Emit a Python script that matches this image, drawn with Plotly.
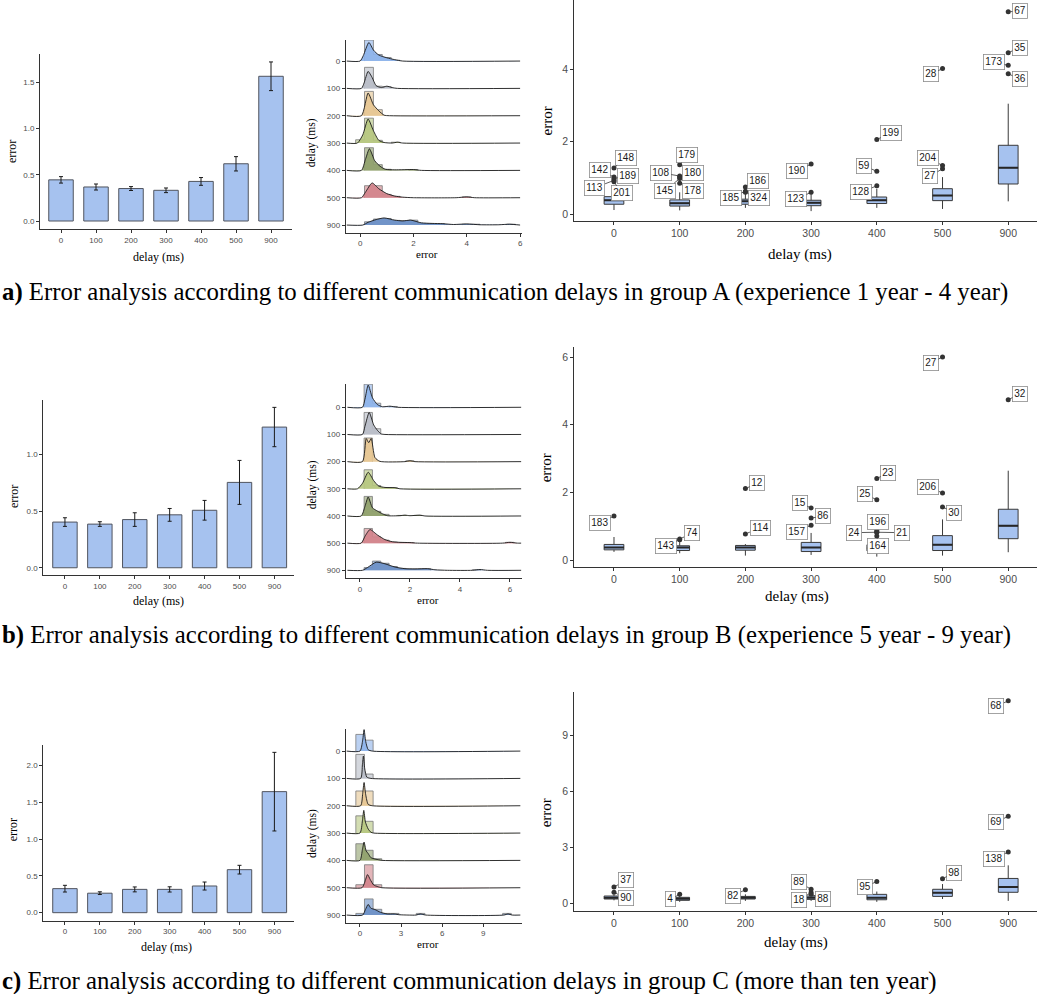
import plotly.graph_objects as go

W, H = 1037, 994

delays = ["0", "100", "200", "300", "400", "500", "900"]
pos = list(range(len(delays)))

# ---------------- mean error with standard-error bounds ----------------
bar_mean_a = [0.445, 0.368, 0.351, 0.332, 0.428, 0.619, 1.565]
bar_low_a = [0.410, 0.335, 0.330, 0.307, 0.386, 0.541, 1.410]
bar_high_a = [0.480, 0.400, 0.372, 0.357, 0.470, 0.696, 1.720]

bar_mean_b = [0.403, 0.385, 0.425, 0.467, 0.507, 0.753, 1.241]
bar_low_b = [0.365, 0.365, 0.365, 0.410, 0.420, 0.559, 1.068]
bar_high_b = [0.441, 0.406, 0.485, 0.523, 0.594, 0.947, 1.415]

bar_mean_c = [0.327, 0.265, 0.317, 0.317, 0.363, 0.585, 1.646]
bar_low_c = [0.281, 0.247, 0.283, 0.281, 0.308, 0.526, 1.111]
bar_high_c = [0.372, 0.284, 0.350, 0.352, 0.417, 0.644, 2.180]

# ---------------- ridgeline histograms: (bin index, height) ----------------
bin_start_ab, bin_width_ab = -0.167, 0.333
bin_start_c, bin_width_c = -0.30, 0.63

hist_a = [
    [(1, 0.77), (2, 0.24), (3, 0.13), (4, 0.03)],
    [(1, 0.77), (2, 0.08), (3, 0.06)],
    [(1, 0.89), (2, 0.22)],
    [(0, 0.12), (1, 0.91), (2, 0.10), (4, 0.03)],
    [(1, 0.83), (2, 0.21), (3, 0.04), (6, 0.03)],
    [(1, 0.44), (2, 0.44), (3, 0.12), (4, 0.05), (12, 0.03)],
    [(1, 0.12), (2, 0.22), (3, 0.24), (4, 0.17), (5, 0.16), (6, 0.18), (7, 0.06),
     (8, 0.05), (9, 0.05), (12, 0.03), (13, 0.03), (17, 0.03)],
]
hist_b = [
    [(1, 0.85), (2, 0.15), (4, 0.03)],
    [(1, 0.81), (2, 0.21)],
    [(1, 0.87), (6, 0.03)],
    [(1, 0.70), (2, 0.12), (3, 0.04), (4, 0.04)],
    [(1, 0.72), (2, 0.17), (3, 0.06), (5, 0.02), (7, 0.02)],
    [(1, 0.54), (2, 0.23), (3, 0.11), (4, 0.04), (5, 0.02), (6, 0.02), (18, 0.03)],
    [(1, 0.10), (2, 0.34), (3, 0.26), (4, 0.14), (5, 0.07), (6, 0.05), (7, 0.05),
     (8, 0.06), (14, 0.02)],
]
hist_c = [
    [(0, 0.61), (1, 0.40)],
    [(0, 0.88), (1, 0.16)],
    [(0, 0.54), (1, 0.54)],
    [(0, 0.63), (1, 0.43)],
    [(0, 0.61), (1, 0.37), (2, 0.06)],
    [(0, 0.11), (1, 0.84), (2, 0.11)],
    [(0, 0.06), (1, 0.59), (2, 0.21), (3, 0.06), (4, 0.06), (7, 0.06), (17, 0.06)],
]

# ---------------- ridgeline densities: (error, height) ----------------
dens_a = [
    [(-0.5, 0), (0.0, 0), (0.12, 0.2), (0.33, 0.68), (0.5, 0.4), (0.7, 0.22), (1.0, 0.12),
     (1.3, 0.05), (1.6, 0), (6.0, 0)],
    [(-0.5, 0), (0.05, 0), (0.15, 0.2), (0.3, 0.62), (0.45, 0.4), (0.6, 0.1), (0.8, 0.03),
     (1.0, 0.08), (1.2, 0.03), (1.4, 0), (6.0, 0)],
    [(-0.5, 0), (0.05, 0), (0.3, 0.83), (0.5, 0.4), (0.7, 0.18), (0.9, 0.02), (1.1, 0), (6.0, 0)],
    [(-0.5, 0), (-0.1, 0), (0.1, 0.3), (0.3, 0.88), (0.5, 0.45), (0.7, 0.1), (0.9, 0.02),
     (1.2, 0), (1.4, 0.03), (1.6, 0), (6.0, 0)],
    [(-0.5, 0), (0.05, 0), (0.2, 0.4), (0.35, 0.79), (0.55, 0.35), (0.75, 0.15), (0.95, 0.04),
     (1.3, 0.02), (2.0, 0.03), (2.3, 0), (6.0, 0)],
    [(-0.5, 0), (0.05, 0), (0.2, 0.2), (0.45, 0.54), (0.7, 0.33), (1.0, 0.15), (1.3, 0.06),
     (1.6, 0.02), (2.0, 0), (3.6, 0), (4.0, 0.03), (4.3, 0), (6.0, 0)],
    [(-0.5, 0), (0.1, 0), (0.3, 0.1), (0.6, 0.2), (0.9, 0.26), (1.3, 0.18), (1.6, 0.15),
     (1.9, 0.18), (2.3, 0.08), (2.7, 0.06), (3.1, 0.05), (3.5, 0.02), (4.0, 0.04), (4.5, 0.01),
     (5.2, 0.01), (5.6, 0.03), (6.0, 0)],
]
dens_b = [
    [(-0.5, 0), (0.1, 0), (0.2, 0.3), (0.33, 0.82), (0.5, 0.35), (0.7, 0.1), (0.9, 0.02),
     (1.2, 0.04), (1.5, 0), (6.45, 0)],
    [(-0.5, 0), (0.1, 0), (0.2, 0.3), (0.37, 0.81), (0.55, 0.35), (0.7, 0.15), (0.85, 0.02),
     (1.0, 0), (6.45, 0)],
    [(-0.5, 0), (0.1, 0), (0.25, 0.85), (0.35, 0.7), (0.45, 0.85), (0.6, 0.15), (0.8, 0.01),
     (1.8, 0), (2.0, 0.03), (2.2, 0), (6.45, 0)],
    [(-0.5, 0), (-0.1, 0), (0.1, 0.2), (0.33, 0.61), (0.55, 0.3), (0.75, 0.1), (1.0, 0.05),
     (1.4, 0.04), (1.6, 0), (6.45, 0)],
    [(-0.5, 0), (0.05, 0), (0.2, 0.35), (0.33, 0.7), (0.5, 0.3), (0.7, 0.18), (0.9, 0.08),
     (1.1, 0.01), (1.6, 0.01), (1.8, 0.03), (2.0, 0.01), (2.4, 0.03), (2.6, 0), (6.45, 0)],
    [(-0.5, 0), (0.05, 0), (0.2, 0.25), (0.4, 0.5), (0.7, 0.3), (1.0, 0.13), (1.3, 0.05),
     (1.6, 0.03), (2.0, 0.02), (2.3, 0), (5.7, 0), (6.0, 0.03), (6.3, 0), (6.45, 0)],
    [(-0.5, 0), (0.1, 0), (0.3, 0.1), (0.65, 0.3), (1.0, 0.24), (1.4, 0.12), (1.8, 0.06),
     (2.2, 0.05), (2.7, 0.06), (3.0, 0.02), (3.5, 0), (4.5, 0), (4.8, 0.03), (5.1, 0), (6.45, 0)],
]
dens_c = [
    [(-0.97, 0), (0.0, 0), (0.2, 0.4), (0.3, 0.79), (0.42, 0.35), (0.6, 0.05), (0.9, 0), (11.7, 0)],
    [(-0.97, 0), (0.05, 0), (0.18, 0.5), (0.25, 0.82), (0.35, 0.35), (0.5, 0.05), (0.8, 0), (11.7, 0)],
    [(-0.97, 0), (0.05, 0), (0.2, 0.45), (0.3, 0.85), (0.42, 0.4), (0.6, 0.05), (0.9, 0), (11.7, 0)],
    [(-0.97, 0), (0.0, 0), (0.18, 0.45), (0.28, 0.83), (0.4, 0.4), (0.6, 0.15), (0.8, 0.03),
     (1.0, 0), (11.7, 0)],
    [(-0.97, 0), (0.0, 0), (0.18, 0.4), (0.3, 0.67), (0.45, 0.35), (0.6, 0.25), (0.8, 0.1),
     (1.1, 0.05), (1.4, 0.02), (1.6, 0), (11.7, 0)],
    [(-0.97, 0), (0.15, 0), (0.35, 0.2), (0.55, 0.48), (0.75, 0.3), (1.0, 0.1), (1.3, 0.04),
     (1.6, 0), (11.7, 0)],
    [(-0.97, 0), (0.2, 0), (0.4, 0.2), (0.6, 0.39), (0.8, 0.25), (1.1, 0.2), (1.5, 0.1),
     (2.0, 0.04), (2.5, 0.04), (2.9, 0.01), (3.5, 0), (4.1, 0), (4.4, 0.04), (4.8, 0),
     (10.5, 0), (10.8, 0.04), (11.1, 0), (11.7, 0)],
]

# ---------------- box-plot summaries ----------------
box_q1_a = [0.27, 0.22, 0.27, 0.23, 0.29, 0.37, 0.83]
box_med_a = [0.38, 0.30, 0.35, 0.31, 0.38, 0.51, 1.28]
box_q3_a = [0.48, 0.39, 0.41, 0.38, 0.47, 0.70, 1.90]
box_lo_a = [0.11, 0.10, 0.17, 0.08, 0.17, 0.14, 0.35]
box_hi_a = [0.80, 0.60, 0.58, 0.55, 0.70, 1.02, 3.05]

box_q1_b = [0.30, 0.28, 0.29, 0.25, 0.27, 0.28, 0.63]
box_med_b = [0.37, 0.37, 0.37, 0.37, 0.35, 0.45, 1.01]
box_q3_b = [0.46, 0.42, 0.43, 0.52, 0.45, 0.72, 1.50]
box_lo_b = [0.24, 0.20, 0.13, 0.15, 0.10, 0.13, 0.23]
box_hi_b = [0.68, 0.55, 0.47, 0.80, 0.65, 1.20, 2.64]

box_q1_c = [0.25, 0.18, 0.25, 0.23, 0.21, 0.39, 0.61]
box_med_c = [0.32, 0.27, 0.32, 0.32, 0.32, 0.59, 0.89]
box_q3_c = [0.41, 0.34, 0.39, 0.41, 0.50, 0.77, 1.35]
box_lo_c = [0.18, 0.10, 0.15, 0.15, 0.10, 0.25, 0.15]
box_hi_c = [0.50, 0.45, 0.50, 0.48, 0.65, 1.05, 2.05]

# ---------------- labelled outliers ----------------
out_id_a = [148, 142, 189, 113, 201, 179, 108, 180, 145, 178, 186, 185, 324, 190, 123,
            199, 59, 128, 28, 204, 27, 67, 35, 173, 36]
out_pos_a = [0, 0, 0, 0, 0, 1, 1, 1, 1, 1, 2, 2, 2, 3, 3, 4, 4, 4, 5, 5, 5, 6, 6, 6, 6]
out_val_a = [1.27, 1.02, 0.98, 0.93, 0.89, 1.36, 1.05, 1.02, 0.98, 0.85, 0.75, 0.63, 0.60,
             1.38, 0.60, 2.06, 1.18, 0.78, 4.02, 1.34, 1.25, 5.59, 4.46, 4.11, 3.88]

out_id_b = [183, 143, 74, 12, 114, 15, 86, 157, 23, 25, 196, 24, 21, 164, 27, 206, 30, 32]
out_pos_b = [0, 1, 1, 2, 2, 3, 3, 3, 4, 4, 4, 4, 4, 4, 5, 5, 5, 6]
out_val_b = [1.30, 0.60, 0.62, 2.11, 0.77, 1.54, 1.24, 1.03, 2.41, 1.78, 0.87, 0.82, 0.82,
             0.71, 6.00, 1.98, 1.57, 4.74]

out_id_c = [37, 90, 4, 82, 89, 18, 88, 95, 98, 68, 69, 138]
out_pos_c = [0, 0, 1, 2, 3, 3, 3, 4, 5, 6, 6, 6]
out_val_c = [0.89, 0.61, 0.50, 0.75, 0.77, 0.60, 0.50, 1.19, 1.34, 10.84, 4.67, 2.76]

# label placement (pixel offsets of each label from its point)
lab_dx_a = [11.7, -14, 14.3, -19, 7.7, 7.6, -19, 13, -14.7, 13, 12.9, -14.4, 13.6, -14.4, -15.1,
            14.5, -12.8, -15.8, -11.8, -14.2, -12.5, 11.8, 11.8, -14.2, 11.8]
lab_dy_a = [-10.4, -7.1, -2.9, 7.3, 11.5, -9.8, -3.3, -4.1, 12.1, 7.7, -6.2, 6.5, 6, 6.9, 7,
            -6.8, -5.6, 6.5, 5.7, -7.5, 7.2, -0.8, -5, -3.3, 5.6]
lab_dx_b = [-14, -14, 12, 11.9, 14.6, -11.4, 12.2, -13.8, 11.5, -11.8, 1.5, -22.5, 24.9, 1.5,
            -11.8, -14.2, 11.8, 11.8]
lab_dy_b = [7, 6, -5.7, -5.3, -6, -4.9, -1.8, 6.8, -5.5, -5.5, -8.9, 0.4, 0.4, 10.3, 5.7,
            -6.3, 5.8, -5.6]
lab_dx_c = [11.7, 11.7, -9.4, -12.1, -11.8, -11.8, 11.9, -11.8, 11.8, -11.9, -11.9, -14.2]
lab_dy_c = [-6.7, 6, 5, 6, -7, 7.5, 4.4, 5.6, -5.6, 5.4, 5.7, 6.6]

captions = [
    ("a)", "Error analysis according to different communication delays in group A (experience 1 year - 4 year)"),
    ("b)", "Error analysis according to different communication delays in group B (experience 5 year - 9 year)"),
    ("c)", "Error analysis according to different communication delays in group C (more than ten year)"),
]

# ---------------- styling ----------------
RIDGE_COLORS = ["#8db3ea", "#b8bcc6", "#e5c591", "#b6c77e", "#8fa06c", "#d1838b", "#6b8fc5"]
BAR_FILL = "#a6c2ef"
AX_COL = "#333333"
TICK_COL = "#4d4d4d"
SANS = "Liberation Sans"
SERIF = "Liberation Serif"


def rgba(hex_color, a):
    h = hex_color.lstrip("#")
    r, g, b = int(h[0:2], 16), int(h[2:4], 16), int(h[4:6], 16)
    return f"rgba({r},{g},{b},{a})"


fig = go.Figure()
axes_layout = {}
annotations = []


def setup_axes(n, box_px, xr, yr, xt, xtt, yt, ytt, fs):
    left, top, right, bottom = box_px
    s = "" if n == 1 else str(n)
    common = dict(showline=True, linecolor=AX_COL, linewidth=1, ticks="outside", ticklen=3,
                  tickwidth=1, tickcolor=AX_COL, showgrid=False, zeroline=False,
                  tickfont=dict(family=SANS, size=fs, color=TICK_COL), fixedrange=True)
    axes_layout["xaxis" + s] = dict(domain=[left / W, right / W], range=xr, anchor="y" + s,
                                    tickmode="array", tickvals=xt, ticktext=xtt, **common)
    axes_layout["yaxis" + s] = dict(domain=[1 - bottom / H, 1 - top / H], range=yr, anchor="x" + s,
                                    tickmode="array", tickvals=yt, ticktext=ytt, **common)
    return "x" + s, "y" + s


def axis_title(text, px, py, size, rotate=False):
    annotations.append(dict(text=text, x=px / W, y=1 - py / H, xref="paper", yref="paper",
                            showarrow=False, xanchor="center", yanchor="middle",
                            textangle=-90 if rotate else 0,
                            font=dict(family=SERIF, size=size, color="#000000")))


def bar_panel(n, box_px, xr, yr, yt, ytt, mean, low, high, xtitle_px, ytitle_px):
    xa, ya = setup_axes(n, box_px, xr, yr, pos, delays, yt, ytt, 8)
    fig.add_trace(go.Bar(
        x=pos, y=mean, width=0.7, xaxis=xa, yaxis=ya, showlegend=False,
        marker=dict(color=BAR_FILL, line=dict(color="#50545e", width=1)),
        error_y=dict(type="data", symmetric=False,
                     array=[h - m for h, m in zip(high, mean)],
                     arrayminus=[m - l for m, l in zip(mean, low)],
                     color="#1a1a1a", thickness=1, width=2),
    ))
    axis_title("delay (ms)", *xtitle_px, 12)
    axis_title("error", *ytitle_px, 12, rotate=True)


def ridge_panel(n, box_px, xr, yr, xt, hists, dens, b0, bw, xtitle_px, ytitle_px):
    nr = len(delays)
    xa, ya = setup_axes(n, box_px, xr, yr, xt, [str(v) for v in xt],
                        [nr - 1 - i for i in range(nr)], delays, 8)
    for i in range(nr):
        base = nr - 1 - i
        col = RIDGE_COLORS[i]
        # histogram outline, one closed path per run of adjacent bins
        hx, hy = [], []
        bins = sorted(hists[i])
        run = []
        for j, (k, h) in enumerate(bins):
            run.append((k, h))
            last = j == len(bins) - 1 or bins[j + 1][0] != k + 1
            if last:
                hx += [b0 + run[0][0] * bw]
                hy += [base]
                for kk, hh in run:
                    l, r = b0 + kk * bw, b0 + (kk + 1) * bw
                    hx += [l, r]
                    hy += [base + hh, base + hh]
                hx += [b0 + (run[-1][0] + 1) * bw, None]
                hy += [base, None]
                run = []
        fig.add_trace(go.Scatter(
            x=hx, y=hy, mode="lines", fill="toself", fillcolor=rgba(col, 0.6),
            line=dict(color="#7a7a7a", width=0.8), xaxis=xa, yaxis=ya,
            showlegend=False, hoverinfo="skip"))
        dx = [p[0] for p in dens[i]]
        dy = [base + p[1] for p in dens[i]]
        fig.add_trace(go.Scatter(
            x=dx, y=dy, mode="lines", fill="toself", fillcolor=rgba(col, 0.9),
            line=dict(color="#1a1a1a", width=0.9, shape="spline", smoothing=0.6),
            xaxis=xa, yaxis=ya, showlegend=False, hoverinfo="skip"))
    axis_title("error", *xtitle_px, 11)
    axis_title("delay (ms)", *ytitle_px, 11.5, rotate=True)


def box_panel(n, box_px, yr, yt, q1, med, q3, lo, hi, oid, opos, oval, ldx, ldy,
              xtitle_px, ytitle_px):
    xa, ya = setup_axes(n, box_px, [-0.604, 6.438], yr, pos, delays, yt, [str(v) for v in yt], 10.5)
    fig.add_trace(go.Box(
        x=pos, q1=q1, median=med, q3=q3, lowerfence=lo, upperfence=hi, width=0.3,
        fillcolor=BAR_FILL, line=dict(color="#3a3a3a", width=1), whiskerwidth=0,
        boxpoints=False, xaxis=xa, yaxis=ya, showlegend=False, hoverinfo="skip"))
    mx, my = [], []
    for p, m in zip(pos, med):
        mx += [p - 0.15, p + 0.15, None]
        my += [m, m, None]
    fig.add_trace(go.Scatter(x=mx, y=my, mode="lines", line=dict(color="#262626", width=2),
                             xaxis=xa, yaxis=ya, showlegend=False, hoverinfo="skip"))
    fig.add_trace(go.Scatter(x=opos, y=oval, mode="markers",
                             marker=dict(color="#333333", size=5),
                             xaxis=xa, yaxis=ya, showlegend=False, hoverinfo="skip"))
    for t, p, v, ax_, ay_ in zip(oid, opos, oval, ldx, ldy):
        annotations.append(dict(
            text=str(t), x=p, y=v, xref=xa, yref=ya, ax=ax_ * 1.0, ay=ay_ * 1.0,
            axref="pixel", ayref="pixel", showarrow=True, arrowhead=0, arrowwidth=0.8,
            arrowcolor="#333333", standoff=2, bgcolor="#ffffff", bordercolor="#8c8c8c",
            borderwidth=0.8, borderpad=1.5, font=dict(family=SANS, size=10, color="#1a1a1a")))
    axis_title("delay (ms)", *xtitle_px, 15)
    axis_title("error", *ytitle_px, 15, rotate=True)


# ---- row a ----
bar_panel(1, (40, 54, 292, 229), [-0.6, 6.6], [-0.0865, 1.806], [0, 0.5, 1, 1.5],
          ["0.0", "0.5", "1.0", "1.5"], bar_mean_a, bar_low_a, bar_high_a, (158, 256.5), (12.5, 151.5))
ridge_panel(2, (345.7, 40, 521.7, 232.7), [-0.54, 6.06], [-0.28, 6.77], [0, 2, 4, 6],
            hist_a, dens_a, bin_start_ab, bin_width_ab, (426.7, 254), (311, 143.3))
box_panel(3, (574.3, 0, 1037, 220.7), [-0.185, 5.917], [0, 2, 4],
          box_q1_a, box_med_a, box_q3_a, box_lo_a, box_hi_a,
          out_id_a, out_pos_a, out_val_a, lab_dx_a, lab_dy_a, (800, 254), (546.7, 120.7))

# ---- row b ----
bar_panel(4, (43.3, 400, 294.3, 575), [-0.62, 6.57], [-0.064, 1.48], [0, 0.5, 1],
          ["0.0", "0.5", "1.0"], bar_mean_b, bar_low_b, bar_high_b, (158.3, 600.7), (13.3, 496.7))
ridge_panel(5, (345.7, 384, 521.7, 578.3), [-0.57, 6.47], [-0.294, 6.857], [0, 2, 4, 6],
            hist_b, dens_b, bin_start_ab, bin_width_ab, (428.3, 600), (313.3, 485))
box_panel(6, (574.3, 346.7, 1037, 566.7), [-0.198, 6.305], [0, 2, 4, 6],
          box_q1_b, box_med_b, box_q3_b, box_lo_b, box_hi_b,
          out_id_b, out_pos_b, out_val_b, lab_dx_b, lab_dy_b, (796.7, 596.7), (546, 468.3))

# ---- row c ----
bar_panel(7, (43.3, 745, 294.3, 920.7), [-0.62, 6.57], [-0.109, 2.28], [0, 0.5, 1, 1.5, 2],
          ["0.0", "0.5", "1.0", "1.5", "2.0"], bar_mean_c, bar_low_c, bar_high_c,
          (166.7, 947), (13.3, 830))
ridge_panel(8, (345.7, 729.3, 521.7, 922.7), [-1.04, 11.8], [-0.28, 6.797], [0, 3, 6, 9],
            hist_c, dens_c, bin_start_c, bin_width_c, (427.7, 944), (312.7, 833.3))
box_panel(9, (574.3, 691.7, 1037, 910.7), [-0.374, 11.33], [0, 3, 6, 9],
          box_q1_c, box_med_c, box_q3_c, box_lo_c, box_hi_c,
          out_id_c, out_pos_c, out_val_c, lab_dx_c, lab_dy_c, (796, 942.7), (546, 813.3))

# ---- captions ----
for (tag, text), py in zip(captions, [292, 635, 981]):
    annotations.append(dict(
        text=f"<b>{tag}</b> {text}", x=0, y=1 - py / H, xref="paper", yref="paper",
        xanchor="left", yanchor="middle", showarrow=False,
        font=dict(family=SERIF, size=24.8, color="#000000")))

fig.update_layout(
    width=W, height=H, margin=dict(l=0, r=0, t=0, b=0),
    paper_bgcolor="#ffffff", plot_bgcolor="#ffffff",
    annotations=annotations, bargap=0.3, **axes_layout,
)

fig.write_html("out.html")
